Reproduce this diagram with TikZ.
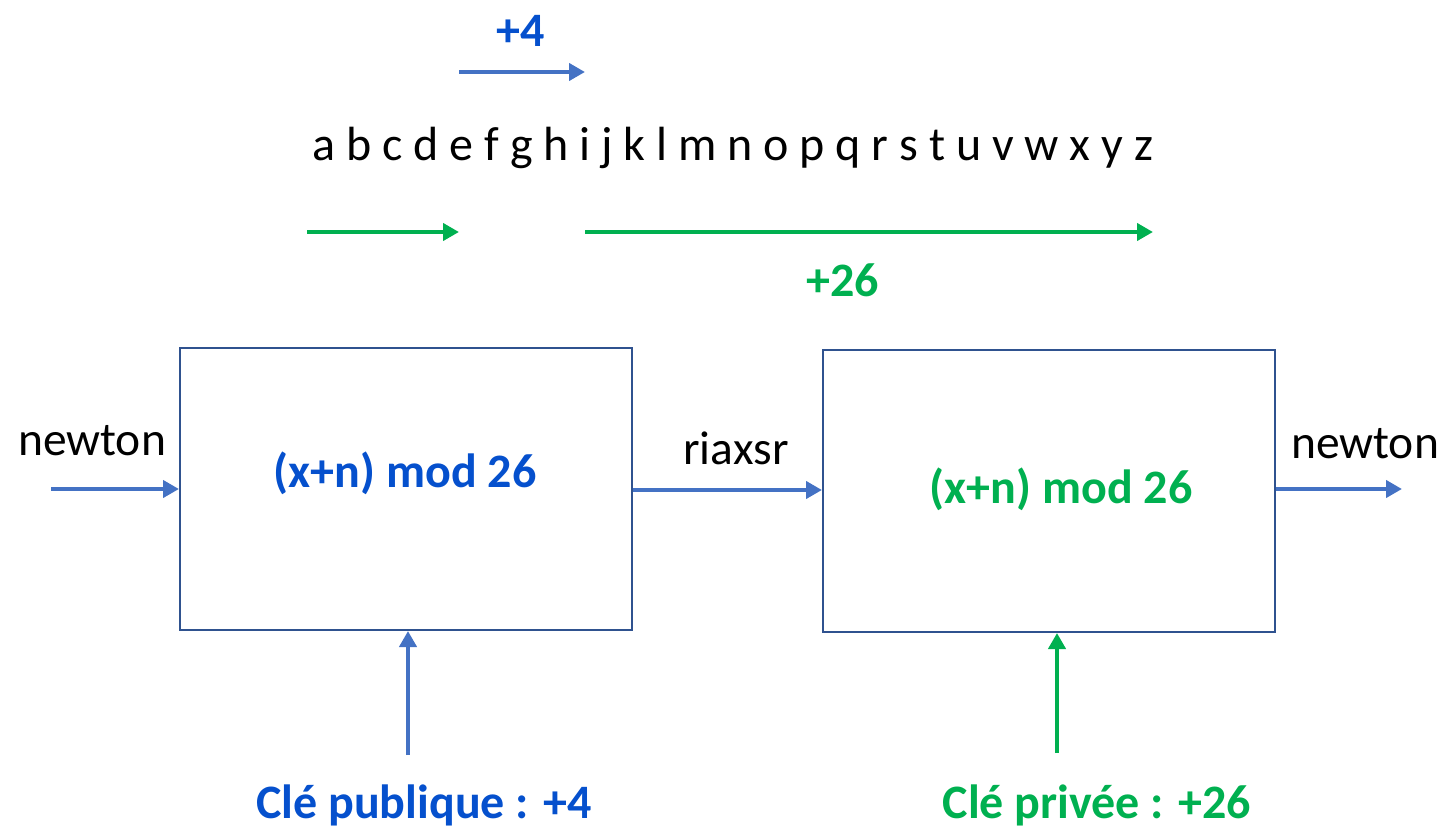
\documentclass[tikz,border=0pt]{standalone}
\usepackage{fontspec}
\setmainfont{Carlito}
\usetikzlibrary{arrows.meta}
\definecolor{boxc}{RGB}{47,82,143}
\definecolor{arrc}{RGB}{68,114,196}
\definecolor{txtb}{RGB}{5,80,205}
\definecolor{grn}{RGB}{0,176,80}
\tikzset{
  px/.style={x=1pt,y=-1pt},
  blk/.style={draw=boxc,line width=2pt,minimum width=452pt,minimum height=282pt,inner sep=0pt},
  barr/.style={draw=arrc,line width=4.5pt,-{Triangle[length=16pt,width=17pt]}},
  garr/.style={draw=grn,line width=4.5pt,-{Triangle[length=16pt,width=17pt]}},
  lbl/.style={inner sep=0pt,font=\fontsize{47.5}{52}\selectfont},
  blbl/.style={inner sep=0pt,font=\fontsize{48}{52}\selectfont\bfseries},
}
\begin{document}
\begin{tikzpicture}[px]
\useasboundingbox (0,0) rectangle (1447,837);
\node[blk,anchor=north west] (b1) at (179,347) {};
\node[blk,anchor=north west] (b2) at (822,349) {};
\node[blbl,text=txtb] (f1) at (405,473) {(x+n) mod 26};
\node[blbl,text=grn] (f2) at (1061,489) {(x+n) mod 26};
\coordinate (in) at (51,489);
\coordinate (out) at (1402,489);
\draw[barr] (in) -- (b1.west |- in);
\draw[barr] (b1.east |- 0,490) -- (b2.west |- 0,490);
\draw[barr] (b2.east |- out) -- (out);
\coordinate (k1) at (408,755);
\coordinate (k2) at (1057,753);
\draw[barr] (k1) -- (k1 |- b1.south);
\draw[garr] (k2) -- (k2 |- b2.south);
\node[lbl] (n1) at (92,441) {newton};
\node[lbl] (c) at (736,448) {riaxsr};
\node[lbl] (n2) at (1365,444) {newton};
\node[blbl,text=txtb] (kp) at (424,805) {Clé publique : +4};
\node[blbl,text=grn] (kv) at (1097,805) {Clé privée : +26};
\node[lbl,font=\fontsize{48}{52}\selectfont] (alpha) at (733,148) {a b c d e f g h i j k l m n o p q r s t u v w x y z};
\node[blbl,text=txtb] (p4) at (521,31) {+4};
\node[blbl,text=grn] (p26) at (843,280) {+26};
\coordinate (t1) at (459,72); \coordinate (t2) at (585,72);
\draw[barr] (t1) -- (t2);
\coordinate (g1) at (307,232); \coordinate (g2) at (459,232);
\coordinate (g3) at (585,232); \coordinate (g4) at (1153,232);
\draw[garr] (g1) -- (g2);
\draw[garr] (g3) -- (g4);
\end{tikzpicture}
\end{document}
